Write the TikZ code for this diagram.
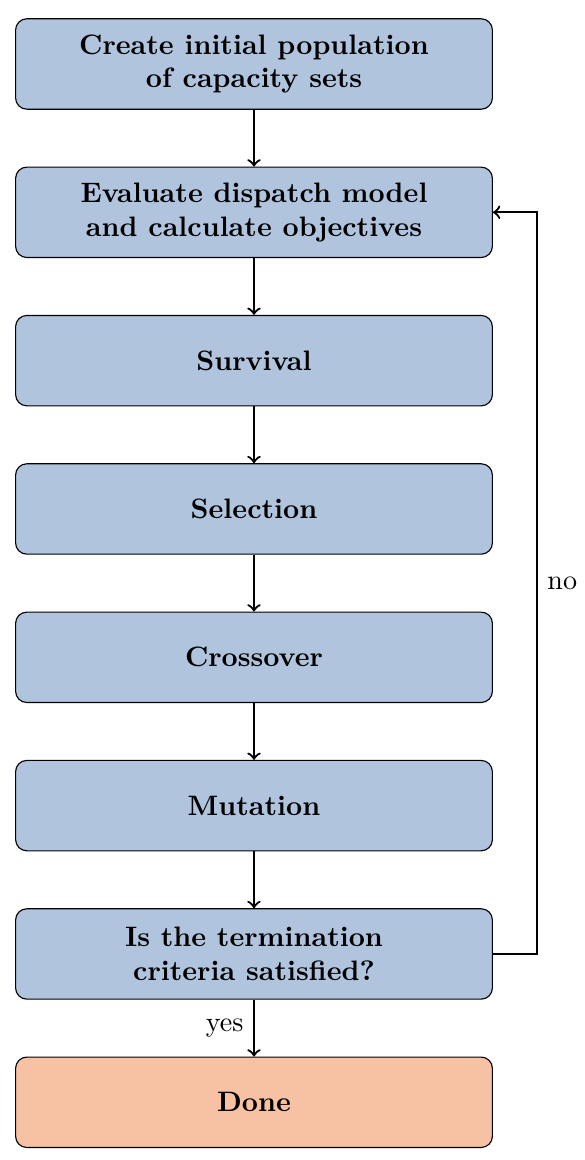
\documentclass[tikz,border=0pt]{standalone}
\usetikzlibrary{arrows,positioning}
\definecolor{boxblue}{RGB}{176,196,222}
\definecolor{boxorange}{RGB}{247,194,164}

\begin{document}
\begin{tikzpicture}[node distance=0.71cm]
  \useasboundingbox (0,0) rectangle (7.3125,-14.5);
  \tikzset{main node/.style={rectangle, draw, fill=boxblue, font=\bfseries,
  		minimum width=5.96cm, minimum height=1.13cm,
  		align=center, rounded corners}, }
  \tikzset{done node/.style={main node, fill=boxorange}, }
  \tikzset{linea/.style={->, thick}, }
\node[main node] (1) at (3.175,-0.8) {Create initial population\\of capacity sets};
\node[main node] (2) [below =of 1]  {Evaluate dispatch model\\and calculate objectives};
\node[main node] (3) [below =of 2]  {Survival};
\node[main node] (4) [below =of 3]  {Selection};
\node[main node] (5) [below =of 4]  {Crossover};
\node[main node] (6) [below =of 5]  {Mutation};
\node[main node] (7) [below =of 6]  {Is the termination\\criteria satisfied?};
\node[done node] (8) [below =of 7]  {Done};
\foreach \x /\y in{1/2,2/3,3/4,4/5,5/6,6/7}
  \path[linea] (\x) edge node {} (\y);
\path[linea] (7) edge node[left] {yes} (8);
\draw[linea] (7.east) -- ++(0.55,0) |- node[pos=0.25, right] {no} (2.east);
%%
\end{tikzpicture}
\end{document}
